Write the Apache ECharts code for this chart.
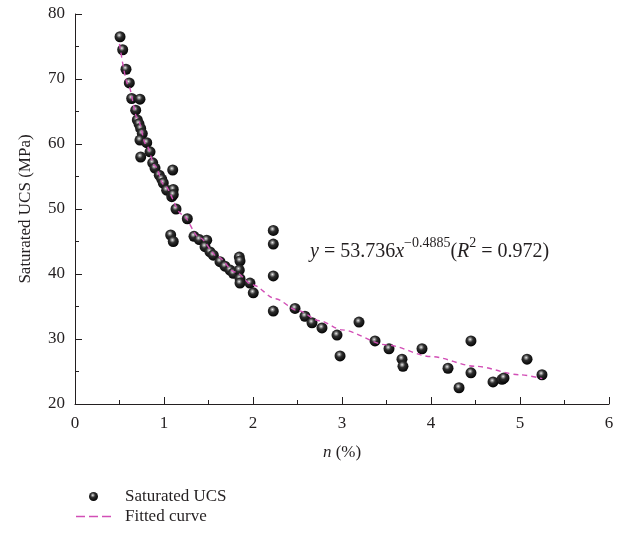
<!DOCTYPE html>
<html>
<head>
<meta charset="utf-8">
<script src="https://cdn.jsdelivr.net/npm/echarts@6/dist/echarts.min.js"></script>
<style>
html,body{margin:0;padding:0;background:#fff;}
#chart{width:630px;height:540px;}
</style>
</head>
<body>
<div id="chart"></div>
<script>
// Scatter data: porosity n (%) and saturated UCS (MPa)
var porosity = [0.506,0.536,0.573,0.610,0.637,0.730,0.682,0.700,0.719,0.738,0.756,0.730,0.806,0.738,0.843,0.873,0.899,0.947,0.974,0.992,1.098,1.030,1.104,1.087,1.104,1.135,1.262,1.075,1.104,1.337,1.397,1.480,1.461,1.517,1.554,1.629,1.685,1.742,1.779,1.846,1.854,1.846,1.854,1.854,1.966,2.003,2.228,2.228,2.228,2.228,2.472,2.584,2.663,2.775,2.944,2.978,3.191,3.371,3.528,3.674,3.685,3.899,4.191,4.315,4.449,4.449,4.697,4.798,4.820,5.079,5.247];
var ucs = [76.5,74.5,71.5,69.4,67.0,66.9,65.2,63.7,63.1,62.4,61.6,60.6,60.2,58.0,58.8,57.1,56.3,55.2,54.6,54.0,56.0,52.9,53.0,51.9,52.2,50.0,48.5,46.0,45.0,45.8,45.3,45.2,44.2,43.4,42.9,41.9,41.2,40.6,40.1,42.6,42.0,40.6,39.3,38.6,38.6,37.1,46.7,44.6,39.7,34.3,34.7,33.5,32.5,31.7,30.6,27.4,32.6,29.7,28.5,26.9,25.8,28.5,25.5,22.5,29.7,24.8,23.4,23.8,24.0,26.9,24.5];
// Fitted curve
var fitX = [0.5,0.6,0.7,0.8,0.9,1.0,1.2,1.4,1.6,1.8,2.0,2.25,2.5,2.75,3.0,3.5,4.0,4.5,5.0,5.25];
var fitY = [75.4,69.0,64.0,59.9,56.6,53.7,49.2,45.6,42.7,40.3,38.3,36.2,34.4,32.8,31.4,29.1,27.3,25.8,24.5,23.9];
var seriesNames = ['Saturated UCS','Fitted curve'];
var xTitle = '{i|n} (%)';
var yTitle = 'Saturated UCS (MPa)';

var FONT = '"Liberation Serif", "DejaVu Serif", serif';
var TXT = '#231f20';
var PINK = '#d24fb6';

var scatterData = porosity.map(function(x,i){return [x, ucs[i]];});
var fitData = fitX.map(function(x,i){return [x, fitY[i]];});

var sphere = {
  type:'radial', x:0.42, y:0.36, r:0.62,
  colorStops:[
    {offset:0, color:'#f0f0f0'},
    {offset:0.16, color:'#9c9c9c'},
    {offset:0.42, color:'#2e2e2e'},
    {offset:1, color:'#050505'}
  ]
};

var chart = echarts.init(document.getElementById('chart'), null, {renderer:'canvas'});
chart.setOption({
  animation:false,
  backgroundColor:'#fff',
  grid:{left:75, right:21, top:14, bottom:136, containLabel:false},
  xAxis:{
    type:'value', min:0, max:6, interval:1,
    name:xTitle, nameLocation:'middle', nameGap:40,
    nameTextStyle:{fontFamily:FONT, fontSize:17, color:TXT,
      rich:{i:{fontFamily:FONT, fontSize:17, fontStyle:'italic', color:TXT}}},
    axisLine:{show:true, onZero:false, lineStyle:{color:'#231f20', width:1}},
    axisTick:{show:true, inside:true, length:7, lineStyle:{color:'#231f20'}},
    minorTick:{show:true, splitNumber:2, length:4, lineStyle:{color:'#231f20'}},
    axisLabel:{fontFamily:FONT, fontSize:17, color:TXT, margin:11},
    splitLine:{show:false}
  },
  yAxis:{
    type:'value', min:20, max:80, interval:10,
    name:yTitle, nameLocation:'middle', nameGap:41,
    nameTextStyle:{fontFamily:FONT, fontSize:17, color:TXT},
    axisLine:{show:true, onZero:false, lineStyle:{color:'#231f20', width:1}},
    axisTick:{show:true, inside:true, length:7, lineStyle:{color:'#231f20'}},
    minorTick:{show:true, splitNumber:2, length:4, lineStyle:{color:'#231f20'}},
    axisLabel:{fontFamily:FONT, fontSize:17, color:TXT, margin:10},
    splitLine:{show:false}
  },
  legend:{
    orient:'vertical', left:76, top:488, padding:0,
    itemWidth:35, itemHeight:9, itemGap:3,
    textStyle:{fontFamily:FONT, fontSize:17, color:TXT, padding:[0,0,0,9]},
    data:[
      {name:seriesNames[0], icon:'circle'},
      {name:seriesNames[1], icon:'path://M0,0h9v1.5h-9z M13,0h9v1.5h-9z M26,0h9v1.5h-9z', itemStyle:{color:PINK}}
    ]
  },
  series:[
    {
      name:seriesNames[0], type:'scatter', data:scatterData,
      symbol:'circle', symbolSize:11, z:2,
      itemStyle:{color:sphere, opacity:1}
    },
    {
      name:seriesNames[1], type:'line', data:fitData, smooth:0.3, smoothMonotone:'x',
      symbol:'none', showSymbol:false, z:3,
      lineStyle:{color:PINK, width:1.4, type:[5,4]},
      itemStyle:{color:PINK}
    }
  ],
  graphic:[{
    type:'text', left:310, top:236, z:10,
    style:{
      text:'{it|y}{m| = 53.736}{it|x}{sup|\u22120.4885}{m|(}{it|R}{sup|2}{m| = 0.972)}',
      fill:TXT,
      rich:{
        m:{fontFamily:FONT, fontSize:20, color:TXT, lineHeight:26, verticalAlign:'bottom'},
        it:{fontFamily:FONT, fontSize:20, fontStyle:'italic', color:TXT, lineHeight:26, verticalAlign:'bottom'},
        sup:{fontFamily:FONT, fontSize:14, color:TXT, lineHeight:15, verticalAlign:'top'}
      }
    }
  }]
});
</script>
</body>
</html>
